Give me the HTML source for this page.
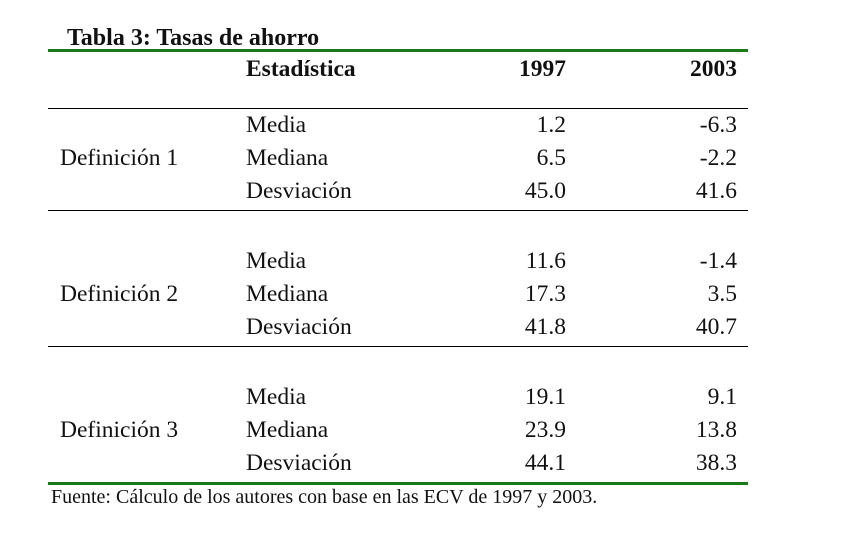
<!DOCTYPE html>
<html><head><meta charset="utf-8"><style>
body{margin:0;width:844px;height:535px;background:#fff;position:relative;overflow:hidden;font-family:"Liberation Serif",serif;color:#111}
.t{position:absolute;font-size:23.5px;line-height:26px;white-space:nowrap;transform:translateY(-50%)}
.r{text-align:right;width:120px}
.b{font-weight:bold}
.ln{position:absolute;left:48px;width:700px;height:1px;background:#000}
.g{position:absolute;left:48px;width:700px;height:3px;background:#1a7a1a}
</style></head><body>
<div class="t b" style="left:67px;top:38px;font-size:24px">Tabla 3: Tasas de ahorro</div>
<div class="g" style="top:49px"></div>
<div class="t b" style="left:246px;top:69px">Estadística</div>
<div class="t b r" style="left:446px;top:69px">1997</div>
<div class="t b r" style="left:617px;top:69px">2003</div>
<div class="ln" style="top:108px"></div>

<div class="t" style="left:60px;top:158px">Definición 1</div>
<div class="t" style="left:246px;top:125px">Media</div><div class="t r" style="left:446px;top:125px">1.2</div><div class="t r" style="left:617px;top:125px">-6.3</div>
<div class="t" style="left:246px;top:158px">Mediana</div><div class="t r" style="left:446px;top:158px">6.5</div><div class="t r" style="left:617px;top:158px">-2.2</div>
<div class="t" style="left:246px;top:191px">Desviación</div><div class="t r" style="left:446px;top:191px">45.0</div><div class="t r" style="left:617px;top:191px">41.6</div>
<div class="ln" style="top:210px"></div>

<div class="t" style="left:60px;top:294px">Definición 2</div>
<div class="t" style="left:246px;top:261px">Media</div><div class="t r" style="left:446px;top:261px">11.6</div><div class="t r" style="left:617px;top:261px">-1.4</div>
<div class="t" style="left:246px;top:294px">Mediana</div><div class="t r" style="left:446px;top:294px">17.3</div><div class="t r" style="left:617px;top:294px">3.5</div>
<div class="t" style="left:246px;top:327px">Desviación</div><div class="t r" style="left:446px;top:327px">41.8</div><div class="t r" style="left:617px;top:327px">40.7</div>
<div class="ln" style="top:346px"></div>

<div class="t" style="left:60px;top:430px">Definición 3</div>
<div class="t" style="left:246px;top:397px">Media</div><div class="t r" style="left:446px;top:397px">19.1</div><div class="t r" style="left:617px;top:397px">9.1</div>
<div class="t" style="left:246px;top:430px">Mediana</div><div class="t r" style="left:446px;top:430px">23.9</div><div class="t r" style="left:617px;top:430px">13.8</div>
<div class="t" style="left:246px;top:463px">Desviación</div><div class="t r" style="left:446px;top:463px">44.1</div><div class="t r" style="left:617px;top:463px">38.3</div>
<div class="g" style="top:482px"></div>
<div class="t" style="left:51px;top:497px;font-size:20px">Fuente: Cálculo de los autores con base en las ECV de 1997 y 2003.</div>
</body></html>
